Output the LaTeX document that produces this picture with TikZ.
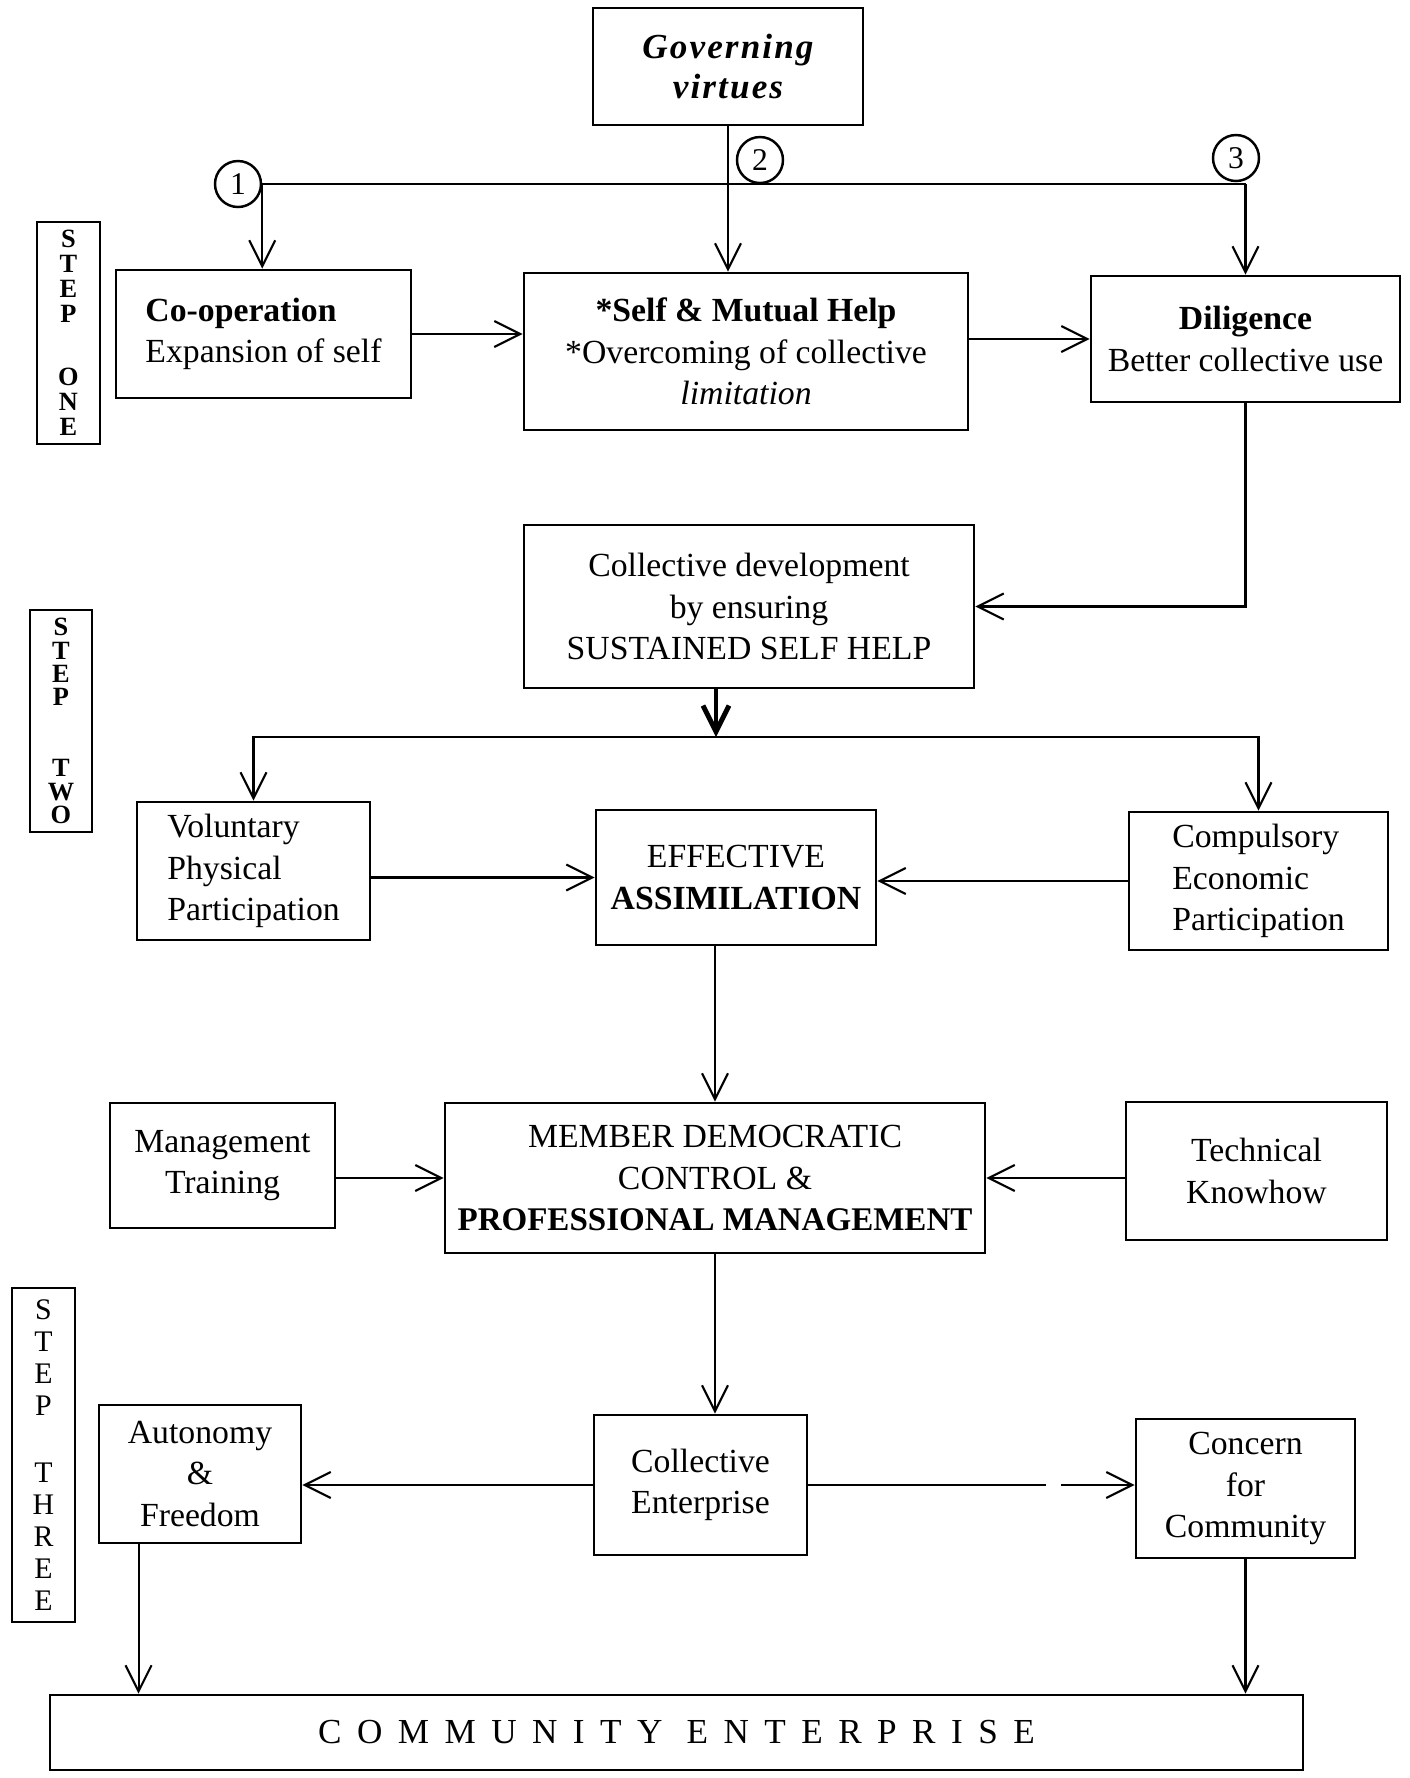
\documentclass[tikz,border=0pt]{standalone}
\usepackage{fontspec}
\setmainfont{Liberation Serif}
\newfontfamily\govfont[LetterSpace=6]{Liberation Serif}
\newfontfamily\spacedfont[LetterSpace=44]{Liberation Serif}
\usetikzlibrary{arrows.meta, positioning, calc}

\begin{document}
\begin{tikzpicture}[
  x=0.1mm, y=-0.1mm,
  box/.style={draw, line width=0.8pt, inner sep=1pt, align=center, font=\fontsize{9.6}{11.8}\selectfont},
  num/.style={circle, draw, line width=0.7pt, minimum size=4.6mm, inner sep=0pt, font=\fontsize{9}{10}\selectfont},
  steplabel/.style={draw, line width=0.8pt, inner sep=0pt, align=center},
  arr/.style={-{Straight Barb[length=2.6mm, width=2.6mm]}, line width=0.6pt},
  link/.style={line width=0.6pt},
]
  \useasboundingbox (0,0) rectangle (1409,1778);

  % Step one
  \node[steplabel, minimum width=6.3mm, minimum height=22.2mm, font=\bfseries\fontsize{7.5}{7.1}\selectfont] (step1) at (68.5,333) {S\\T\\E\\P\\[10.8pt]O\\N\\E};
  \node[box, minimum width=27mm, minimum height=11.7mm, font=\govfont\bfseries\itshape\fontsize{10}{11.4}\selectfont] (gov) at (728,66.5) {Governing\\virtues};
  \node[box, minimum width=29.5mm, minimum height=12.8mm, align=left] (coop) at (263.5,334) {\textbf{Co-operation}\\Expansion of self};
  \node[box, minimum width=44.4mm, minimum height=15.7mm] (self) at (746,351.5) {\textbf{*Self \& Mutual Help}\\*Overcoming of collective\\\textit{limitation}};
  \node[box, minimum width=30.9mm, minimum height=12.6mm] (dil) at (1245.5,339) {\textbf{Diligence}\\Better collective use};

  \node[num] (c1) at (238,184) {1};
  \node[num] (c2) at (760,160) {2};
  \node[num] (c3) at (1236,158) {3};

  \draw[link] (c1.east) -- (c1.east -| dil.north);
  \draw[arr] (c1.east) -- (c1.east |- coop.north);
  \draw[arr] (gov.south) -- (gov.south |- self.north);
  \draw[arr] (c1.east -| dil.north) -- (dil.north);
  \draw[arr] (coop.east) -- (coop.east -| self.west);
  \draw[arr] (dil.west -| self.east) -- (dil.west);

  % Step two
  \node[steplabel, minimum width=6.2mm, minimum height=22.2mm, font=\bfseries\fontsize{7.5}{6.6}\selectfont] (step2) at (61,721) {S\\T\\E\\P\\[13.7pt]T\\W\\O};
  \node[box, minimum width=45mm, minimum height=16.3mm] (cdev) at (749,606.5) {Collective development\\by ensuring\\SUSTAINED SELF HELP};
  \node[box, minimum width=23.3mm, minimum height=13.8mm, align=left] (vol) at (253.5,871) {Voluntary\\Physical\\Participation};
  \node[box, minimum width=28mm, minimum height=13.5mm] (eff) at (736,877.5) {EFFECTIVE\\\textbf{ASSIMILATION}};
  \node[box, minimum width=25.9mm, minimum height=13.8mm, align=left] (comp) at (1258.5,881) {Compulsory\\Economic\\Participation};
  \coordinate (split) at (716,737);

  \draw[arr] (dil.south) |- (cdev.east);
  \draw[arr, line width=1.4pt] (cdev.south -| split) -- (split);
  \draw[arr] (split) -| (vol.north);
  \draw[arr] (split) -| (comp.north);
  \draw[arr] (eff.west -| vol.east) -- (eff.west);
  \draw[arr] (comp.west) -- (comp.west -| eff.east);

  % Management level
  \node[box, minimum width=22.5mm, minimum height=12.5mm] (mgmt) at (222.5,1165.5) {Management\\Training};
  \node[box, minimum width=54mm, minimum height=15mm] (mdc) at (715,1178) {MEMBER DEMOCRATIC\\CONTROL \&\\{\fontsize{9.4}{11.8}\selectfont\bfseries PROFESSIONAL MANAGEMENT}};
  \node[box, minimum width=26.1mm, minimum height=13.8mm] (tech) at (1256.5,1171) {Technical\\Knowhow};

  \draw[arr] (eff.south -| mdc.north) -- (mdc.north);
  \draw[arr] (mdc.west -| mgmt.east) -- (mdc.west);
  \draw[arr] (mdc.east -| tech.west) -- (mdc.east);

  % Step three
  \node[steplabel, minimum width=6.3mm, minimum height=33.4mm, font=\fontsize{8.5}{9.1}\selectfont] (step3) at (43.5,1455) {S\\T\\E\\P\\[10.2pt]T\\H\\R\\E\\E};
  \node[box, minimum width=20.2mm, minimum height=13.8mm] (auto) at (200,1474) {Autonomy\\\&\\Freedom};
  \node[box, minimum width=21.3mm, minimum height=14mm] (cent) at (700.5,1485) {Collective\\Enterprise};
  \node[box, minimum width=21.9mm, minimum height=13.9mm] (conc) at (1245.5,1488.5) {Concern\\for\\Community};
  \node[box, minimum width=125.3mm, minimum height=7.5mm, font=\spacedfont\fontsize{10}{12}\selectfont] (comm) at (676.5,1732.5) {COMMUNITY ENTERPRISE};
  \coordinate (aout) at ($(auto.south west)!0.2!(auto.south east)$);

  \draw[arr] (mdc.south) -- (mdc.south |- cent.north);
  \draw[arr] (cent.west) -- (cent.west -| auto.east);
  \draw[arr, dash pattern=on 23.8mm off 1.5mm on 10mm] (cent.east) -- (cent.east -| conc.west);
  \draw[arr] (aout) -- (aout |- comm.north);
  \draw[arr] (conc.south) -- (conc.south |- comm.north);
\end{tikzpicture}
\end{document}
